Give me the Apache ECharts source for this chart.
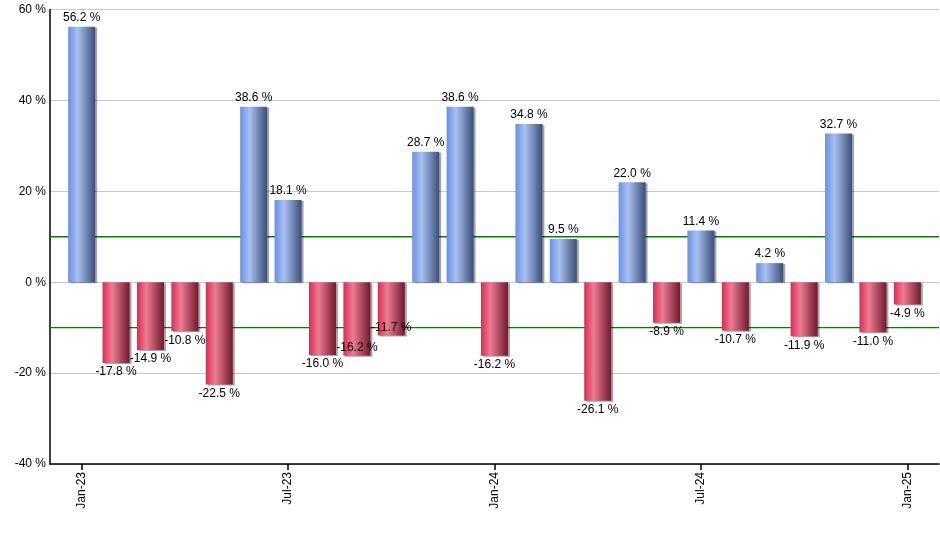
<!DOCTYPE html>
<html>
<head>
<meta charset="utf-8">
<script src="https://cdn.jsdelivr.net/npm/echarts@6/dist/echarts.min.js"></script>
<style>html,body{margin:0;padding:0;background:#fff}#c{width:940px;height:550px}</style>
</head>
<body>
<div id="c"></div>
<script>
const months = ['Jan-23','Feb-23','Mar-23','Apr-23','May-23','Jun-23','Jul-23','Aug-23','Sep-23','Oct-23','Nov-23','Dec-23',
  'Jan-24','Feb-24','Mar-24','Apr-24','May-24','Jun-24','Jul-24','Aug-24','Sep-24','Oct-24','Nov-24','Dec-24','Jan-25'];
const values = [56.2,-17.8,-14.9,-10.8,-22.5,38.6,18.1,-16.0,-16.2,-11.7,28.7,38.6,
  -16.2,34.8,9.5,-26.1,22.0,-8.9,11.4,-10.7,4.2,-11.9,32.7,-11.0,-4.9];
const tickIdx = [0,6,12,18,24];
const yTicks = [-40,-20,0,20,40,60];
const refLines = [10,-10];

const insideLabelIdx = [8,9];
const font = 'Liberation Sans';
const xMin = -0.92, xMax = 24.92;

const blueGrad = new echarts.graphic.LinearGradient(0,0,1,0,[
  {offset:0,color:'#6790e6'},{offset:0.35,color:'#a9c0f0'},{offset:1,color:'#3a4e78'}]);
const redGrad = new echarts.graphic.LinearGradient(0,0,1,0,[
  {offset:0,color:'#de2a52'},{offset:0.35,color:'#ec7c94'},{offset:1,color:'#701a2c'}]);

const data = values.map((v,i)=>{
  const item = {value:[i,v], itemStyle:{color: v>=0?blueGrad:redGrad}};
  if (insideLabelIdx.includes(i)) item.label = {position:'insideBottom', distance:2};
  return item;
});

const refSeries = refLines.map(v=>({
  type:'line',data:[[xMin,v],[xMax,v]],showSymbol:false,symbol:'none',silent:true,z:1,
  lineStyle:{color:'#008000',width:1.3},itemStyle:{color:'#008000'}
}));

const chart = echarts.init(document.getElementById('c'));
chart.setOption({
  animation:false,
  grid:{left:50,right:1,top:9.5,bottom:86,containLabel:false},
  xAxis:{type:'value',min:xMin,max:xMax,
    axisLine:{show:true,onZero:false,lineStyle:{color:'#000',width:1.5}},
    axisTick:{show:true,customValues:tickIdx,length:6,lineStyle:{color:'#000',width:1.5}},
    axisLabel:{customValues:tickIdx,rotate:90,color:'#000',fontFamily:font,fontSize:12,margin:8,
      formatter:v=>months[Math.round(v)]},
    splitLine:{show:false}},
  yAxis:{type:'value',min:-40,max:60,interval:20,
    axisLine:{show:true,onZero:false,lineStyle:{color:'#000',width:1.5}},
    axisTick:{show:false},
    axisLabel:{color:'#000',fontFamily:font,fontSize:12,margin:4,formatter:v=>v+' %'},
    splitLine:{show:true,lineStyle:{color:'#c8c8c8',width:1}}},
  series:refSeries.concat([{
    type:'bar',barWidth:27,data:data,z:5,
    itemStyle:{shadowColor:'rgba(0,0,0,0.35)',shadowOffsetX:2,shadowOffsetY:1,shadowBlur:0},
    label:{show:true,position:'outside',distance:3,color:'#000',fontFamily:font,fontSize:12,
      formatter:p=>p.value[1].toFixed(1)+' %'}
  }])
});
</script>
</body>
</html>
